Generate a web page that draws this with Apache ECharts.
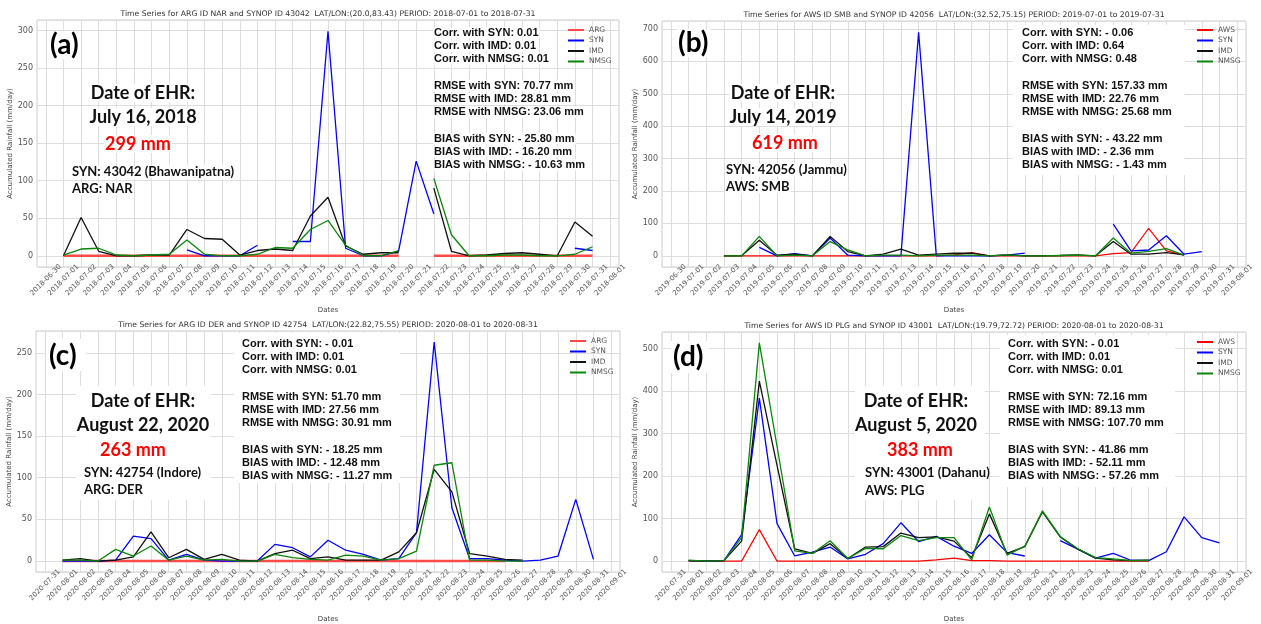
<!DOCTYPE html>
<html>
<head>
<meta charset="utf-8">
<script src="https://cdn.jsdelivr.net/npm/echarts@6/dist/echarts.min.js"></script>
<style>
  html, body { margin: 0; padding: 0; background: #fff; }
  #chart { width: 1261px; height: 624px; }
</style>
</head>
<body>
<div id="chart"></div>
<script>
// ---- daily tick labels (one category per day, inclusive) ----
function dayLabels(startISO, count) {
  const p = startISO.split('-').map(Number);
  const t0 = Date.UTC(p[0], p[1] - 1, p[2]);
  const out = [];
  for (let i = 0; i < count; i++) out.push(new Date(t0 + i * 86400000).toISOString().slice(0, 10));
  return out;
}
const datesA = dayLabels('2018-06-30', 33);
const datesB = dayLabels('2019-06-30', 33);
const datesCD = dayLabels('2020-07-31', 33);

// ---- (a) NAR / 43042, July 2018 (mm/day) ----
const argA  = [null, 0,0,0,0,0,0,0,0,0,0, 0,0,0,0,0,0,0,0,0,0, null, 0,0,0,0,0,0,0,0,0,0, null];
const synA  = [null,null,null,null,null,null,null,null, 8,0,0,0,14,null,19,19,299,10,0,0,6,126,56, null,null,null,null,null,null,null, 10,7,null];
const imdA  = [null, 0,51,6,0,0,1,1,35,23,22, 1,7,9,7,53,78,13,2,4,4, null, 90,6,0,1,3,4,2,0,45,26, null];
const nmsgA = [null, 1,9,10,1,0,1,2,21,2,0, 0,2,11,10,35,47,14,0,0,7, null, 103,28,0,0,1,1,0,0,2,12, null];

// ---- (b) SMB / 42056, July 2019 ----
const awsB  = [null,null,null, 0,0,0,0,0,0,0, 0,0,0,0,0,0,3,10,0,0, 0,0,0,0,0,7,10,85,15,2, null,null,null];
const synB  = [null,null,null,null,null, 26,0,7,0,55, 2,0,0,0,690,0,0,0,0,2, 8,null,null,null,null,98,15,18,62,5, 13,null,null];
const imdB  = [null,null,null, 0,0,48,2,5,0,60, 13,0,5,21,2,5,8,8,0,3, 0,0,1,3,0,44,5,5,10,3, null,null,null];
const nmsgB = [null,null,null, 0,0,60,0,2,0,44, 18,0,2,2,0,2,2,2,0,3, 0,0,1,2,0,55,8,14,22,2, null,null,null];

// ---- (c) DER / 42754, August 2020 ----
const argC  = [null, 0,0,0,0,0,0,0,0,0,0, 0,0,0,0,0,0,0,0,0,0, 0,0,0,0,0,0, null,null,null,null,null,null];
const synC  = [null, 0,0,0,1,30,27,1,8,1,0, 0,0,20,16,5,25,13,8,1,3, 34,263,64,3,3,1,0,1,6,74, 2,null];
const imdC  = [null, 1,3,0,1,5,35,4,14,2,8, 1,0,9,13,3,5,1,1,1,11, 34,110,83,9,6,2,1, null,null,null,null,null];
const nmsgC = [null, 1,1,0,14,6,18,1,6,1,2, 0,0,8,4,2,1,7,6,1,3, 12,115,118,1,1,0,0, null,null,null,null,null];

// ---- (d) PLG / 43001, August 2020 ----
const awsD  = [null, 0,0,0,0,74,0,0,0,0,0, 0,0,0,0,3,7,1,1,0,0, 0,0,0,0,0,0,0, null,null,null,null,null];
const synD  = [null, 1,0,1,62,383,88,12,21,33,5, 16,41,90,46,58,35,18,62,20,12, null,48,28,7,18,2,1,22,104,55, 43,null];
const imdD  = [null, 1,0,1,47,423,225,29,18,41,6, 33,34,66,55,57,47,8,111,18,34, 116,57,28,7,3,1,2, null,null,null,null,null];
const nmsgD = [null, 2,0,1,55,513,270,24,18,48,6, 30,29,60,48,55,55,3,127,14,35, 118,58,29,8,5,1,2, null,null,null,null,null];

const titles = [
  'Time Series for ARG ID NAR and SYNOP ID 43042  LAT/LON:(20.0,83.43) PERIOD: 2018-07-01 to 2018-07-31',
  'Time Series for AWS ID SMB and SYNOP ID 42056  LAT/LON:(32.52,75.15) PERIOD: 2019-07-01 to 2019-07-31',
  'Time Series for ARG ID DER and SYNOP ID 42754  LAT/LON:(22.82,75.55) PERIOD: 2020-08-01 to 2020-08-31',
  'Time Series for AWS ID PLG and SYNOP ID 43001  LAT/LON:(19.79,72.72) PERIOD: 2020-08-01 to 2020-08-31'
];

const statsA = ['Corr. with SYN: 0.01', 'Corr. with IMD: 0.01', 'Corr. with NMSG: 0.01', '',
  'RMSE with SYN: 70.77 mm', 'RMSE with IMD: 28.81 mm', 'RMSE with NMSG: 23.06 mm', '',
  'BIAS with SYN: - 25.80 mm', 'BIAS with IMD: - 16.20 mm', 'BIAS with NMSG: - 10.63 mm'];
const statsB = ['Corr. with SYN: - 0.06', 'Corr. with IMD: 0.64', 'Corr. with NMSG: 0.48', '',
  'RMSE with SYN: 157.33 mm', 'RMSE with IMD: 22.76 mm', 'RMSE with NMSG: 25.68 mm', '',
  'BIAS with SYN: - 43.22 mm', 'BIAS with IMD: - 2.36 mm', 'BIAS with NMSG: - 1.43 mm'];
const statsC = ['Corr. with SYN: - 0.01', 'Corr. with IMD: 0.01', 'Corr. with NMSG: 0.01', '',
  'RMSE with SYN: 51.70 mm', 'RMSE with IMD: 27.56 mm', 'RMSE with NMSG: 30.91 mm', '',
  'BIAS with SYN: - 18.25 mm', 'BIAS with IMD: - 12.48 mm', 'BIAS with NMSG: - 11.27 mm'];
const statsD = ['Corr. with SYN: - 0.01', 'Corr. with IMD: 0.01', 'Corr. with NMSG: 0.01', '',
  'RMSE with SYN: 72.16 mm', 'RMSE with IMD: 89.13 mm', 'RMSE with NMSG: 107.70 mm', '',
  'BIAS with SYN: - 41.86 mm', 'BIAS with IMD: - 52.11 mm', 'BIAS with NMSG: - 57.26 mm'];

// ---- panel layout ----
const panels = [
  { grid: { left: 37, top: 20, width: 582, height: 247 }, dates: datesA, split: 6, nameGap: 40,
    gauge: 'ARG', data: [argA, synA, imdA, nmsgA], legend: { left: 568, top: 26 } },
  { grid: { left: 662, top: 21, width: 584, height: 246 }, dates: datesB, split: 7, nameGap: 40,
    gauge: 'AWS', data: [awsB, synB, imdB, nmsgB], legend: { left: 1197, top: 26 } },
  { grid: { left: 36, top: 331, width: 584, height: 245 }, dates: datesCD, split: 6, nameGap: 44,
    gauge: 'ARG', data: [argC, synC, imdC, nmsgC], legend: { left: 570, top: 337 } },
  { grid: { left: 662, top: 332, width: 584, height: 244 }, dates: datesCD, split: 6, nameGap: 44,
    gauge: 'AWS', data: [awsD, synD, imdD, nmsgD], legend: { left: 1197, top: 338 } }
];

const TICK = '#555';
const GRIDC = '#dedede';
const grids = [], xAxes = [], yAxes = [], series = [], legends = [];

panels.forEach((p, i) => {
  grids.push(Object.assign({ show: true, borderColor: '#cccccc', borderWidth: 1, backgroundColor: '#fff' }, p.grid));
  xAxes.push({
    type: 'category', gridIndex: i, data: p.dates, boundaryGap: true,
    name: 'Dates', nameLocation: 'middle', nameGap: p.nameGap,
    nameTextStyle: { fontSize: 7, color: '#444' },
    axisLine: { show: false }, axisTick: { show: false },
    axisLabel: { interval: 0, rotate: 45, align: 'center', verticalAlign: 'middle', margin: 13,
                 fontSize: 7, color: TICK, hideOverlap: false },
    splitLine: { show: true, interval: 0, alignWithLabel: true, lineStyle: { color: GRIDC, width: 1 } }
  });
  let mx = 0;
  p.data.forEach(arr => arr.forEach(v => { if (v != null && v > mx) mx = v; }));
  const pad = mx * 0.05;
  yAxes.push({
    type: 'value', gridIndex: i, min: -pad, max: mx + pad, splitNumber: p.split,
    name: 'Accumulated Rainfall (mm/day)', nameLocation: 'middle', nameGap: 22,
    nameTextStyle: { fontSize: 7, color: '#444' },
    axisLine: { show: false }, axisTick: { show: false },
    axisLabel: { fontSize: 8, color: TICK, margin: 4, showMinLabel: false, showMaxLabel: false,
                 formatter: v => (Math.abs(v / 50 - Math.round(v / 50)) < 1e-9 ? String(Math.round(v)) : '') },
    splitLine: { show: true, lineStyle: { color: GRIDC, width: 1 } }
  });
  const isArg = p.gauge === 'ARG';
  const styles = [
    { name: p.gauge, color: isArg ? '#ff4a4a' : '#ff0000', width: isArg ? 2.4 : 1.2 },
    { name: 'SYN', color: '#0000ff', width: 1.3 },
    { name: 'IMD', color: '#111111', width: 1.3 },
    { name: 'NMSG', color: '#0a860a', width: 1.3 }
  ];
  styles.forEach((s, k) => {
    series.push({
      type: 'line', name: s.name, xAxisIndex: i, yAxisIndex: i, data: p.data[k],
      symbol: 'none', connectNulls: false, silent: true,
      lineStyle: { color: s.color, width: s.width }, itemStyle: { color: s.color }
    });
  });
  legends.push({
    orient: 'vertical', left: p.legend.left, top: p.legend.top, padding: 0,
    icon: 'rect', itemWidth: 16, itemHeight: 2, itemGap: 2.5, itemTextGap: 5,
    data: styles.map(s => s.name), selectedMode: false,
    textStyle: { fontSize: 7.5, color: '#555', lineHeight: 8 }
  });
});

// ---- annotations ----
const G = [];
const BIG = 'Lato, "Open Sans", sans-serif';
const STAT = '"Liberation Sans", Arial, sans-serif';
function txt(x, y, text, font, fill, align, bg) {
  G.push({ type: 'text', x: x, y: y, z: 100, silent: true,
    style: { text: text, font: font, fill: fill || '#111', align: align || 'left', verticalAlign: 'middle',
             backgroundColor: bg ? '#fff' : null, padding: bg ? [0, 1] : 0 } });
}
function box(x, y, w, h) {
  G.push({ type: 'rect', z: 90, silent: true, shape: { x: x, y: y, width: w, height: h }, style: { fill: '#fff' } });
}
function stats(x, yFirst, lines, perLine) {
  const lh = 13.2;
  lines.forEach((t, k) => { if (t) txt(x, yFirst + k * lh, t, 'bold 11px ' + STAT, '#111', 'left', perLine); });
}

titles.forEach((t, i) => {
  const g = panels[i].grid;
  txt(g.left + g.width / 2, g.top - 6, t, '7.7px "DejaVu Sans"', '#333', 'center', false);
});

// (a)
txt(49, 45, '(a)', 'bold 28px ' + BIG, '#000', 'left', true);
txt(143, 93, 'Date of EHR:', 'bold 18px ' + BIG, '#111', 'center', true);
txt(143, 117, 'July 16, 2018', 'bold 18px ' + BIG, '#111', 'center', true);
txt(138, 144, '299 mm', 'bold 18px ' + BIG, '#ff0000', 'center', true);
txt(71, 172, 'SYN: 43042 (Bhawanipatna)', 'bold 13px ' + BIG, '#111', 'left', true);
txt(71, 189, 'ARG: NAR', 'bold 13px ' + BIG, '#111', 'left', true);
stats(433, 33, statsA, true);

// (b)
txt(677, 43, '(b)', 'bold 28px ' + BIG, '#000', 'left', true);
txt(783, 93, 'Date of EHR:', 'bold 18px ' + BIG, '#111', 'center', true);
txt(783, 117, 'July 14, 2019', 'bold 18px ' + BIG, '#111', 'center', true);
txt(785, 143, '619 mm', 'bold 18px ' + BIG, '#ff0000', 'center', true);
txt(725, 170, 'SYN: 42056 (Jammu)', 'bold 13px ' + BIG, '#111', 'left', true);
txt(725, 187, 'AWS: SMB', 'bold 13px ' + BIG, '#111', 'left', true);
box(1013, 25, 172, 150);
stats(1022, 33, statsB, false);

// (c)
box(46, 339, 40, 32);
txt(49, 356, '(c)', 'bold 28px ' + BIG, '#000', 'left', false);
box(76, 386, 135, 114);
txt(143, 401, 'Date of EHR:', 'bold 18px ' + BIG, '#111', 'center', false);
txt(143, 425, 'August 22, 2020', 'bold 18px ' + BIG, '#111', 'center', false);
txt(133, 450, '263 mm', 'bold 18px ' + BIG, '#ff0000', 'center', false);
txt(84, 473, 'SYN: 42754 (Indore)', 'bold 13px ' + BIG, '#111', 'left', false);
txt(84, 490, 'ARG: DER', 'bold 13px ' + BIG, '#111', 'left', false);
box(234, 333, 166, 150);
stats(242, 344, statsC, false);

// (d)
box(671, 341, 38, 32);
txt(673, 357, '(d)', 'bold 28px ' + BIG, '#000', 'left', false);
box(855, 386, 130, 114);
txt(916, 401, 'Date of EHR:', 'bold 18px ' + BIG, '#111', 'center', false);
txt(916, 425, 'August 5, 2020', 'bold 18px ' + BIG, '#111', 'center', false);
txt(920, 450, '383 mm', 'bold 18px ' + BIG, '#ff0000', 'center', false);
txt(865, 473, 'SYN: 43001 (Dahanu)', 'bold 13px ' + BIG, '#111', 'left', false);
txt(865, 491, 'AWS: PLG', 'bold 13px ' + BIG, '#111', 'left', false);
box(1000, 335, 175, 152);
stats(1008, 344, statsD, false);

const chart = echarts.init(document.getElementById('chart'), null, { renderer: 'canvas' });
chart.setOption({
  animation: false,
  backgroundColor: '#fff',
  textStyle: { fontFamily: '"DejaVu Sans", sans-serif' },
  grid: grids, xAxis: xAxes, yAxis: yAxes, series: series, legend: legends,
  graphic: G
});
</script>
</body>
</html>
